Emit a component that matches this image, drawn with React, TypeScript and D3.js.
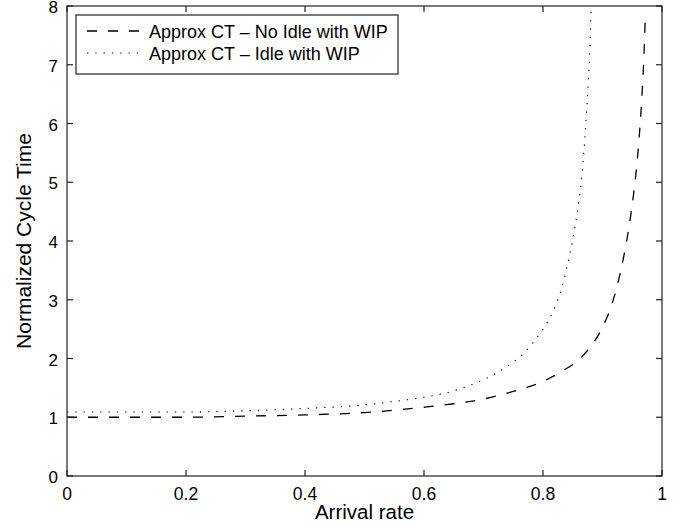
import React from "react";
import * as d3 from "d3";

const xTicks = [0, 0.2, 0.4, 0.6, 0.8, 1];
const xTickLabels = ["0", "0.2", "0.4", "0.6", "0.8", "1"];
const yTicks = [0, 1, 2, 3, 4, 5, 6, 7, 8];
const yTickLabels = ["0", "1", "2", "3", "4", "5", "6", "7", "8"];

const seriesNames = ["Approx CT \u2013 No Idle with WIP", "Approx CT \u2013 Idle with WIP"];

const noIdleX = [0, 0.1, 0.2, 0.3, 0.4, 0.5, 0.6, 0.65, 0.7, 0.75, 0.8, 0.83, 0.86, 0.87, 0.885, 0.9, 0.915, 0.925, 0.935, 0.945, 0.952, 0.958, 0.963, 0.967, 0.97, 0.972];
const noIdleY = [1.0, 1.0, 1.0, 1.02, 1.04, 1.08, 1.17, 1.23, 1.31, 1.44, 1.61, 1.77, 1.98, 2.08, 2.27, 2.53, 2.9, 3.25, 3.7, 4.27, 4.78, 5.33, 5.95, 6.6, 7.25, 7.85];

const idleX = [0, 0.1, 0.2, 0.3, 0.4, 0.5, 0.55, 0.6, 0.65, 0.7, 0.73, 0.75, 0.77, 0.79, 0.81, 0.82, 0.83, 0.84, 0.85, 0.857, 0.863, 0.868, 0.872, 0.876, 0.879, 0.881];
const idleY = [1.09, 1.09, 1.09, 1.11, 1.15, 1.21, 1.27, 1.34, 1.45, 1.64, 1.8, 1.94, 2.11, 2.36, 2.66, 2.88, 3.15, 3.55, 4.03, 4.45, 4.9, 5.43, 6.0, 6.7, 7.3, 8.0];

const W = 684;
const H = 526;
const L = 67, R = 662, T = 6, B = 476;
const FONT = "'Liberation Sans', Arial, Helvetica, sans-serif";

export default function App() {
  const x = d3.scaleLinear().domain([0, 1]).range([L, R]);
  const y = d3.scaleLinear().domain([0, 8]).range([B, T]);
  const line = d3
    .line<[number, number]>()
    .x((d) => x(d[0]))
    .y((d) => y(d[1]))
    .curve(d3.curveMonotoneX);
  const noIdle = noIdleX.map((v, i) => [v, noIdleY[i]] as [number, number]);
  const idle = idleX.map((v, i) => [v, idleY[i]] as [number, number]);
  const tl = 6;
  const axisColor = "#222";

  return (
    <svg
      width={W}
      height={H}
      style={{ position: "absolute", left: 0, top: 0, background: "#fff" }}
      fontFamily={FONT}
    >
      <defs>
        <clipPath id="plotclip">
          <rect x={L} y={T} width={R - L} height={B - T} />
        </clipPath>
      </defs>
      <rect x={0} y={0} width={W} height={H} fill="#fff" />
      <g clipPath="url(#plotclip)">
        <path d={line(noIdle) || ""} fill="none" stroke="#000" strokeWidth={1.3} strokeDasharray="10,11" />
        <path d={line(idle) || ""} fill="none" stroke="#000" strokeWidth={1.1} strokeDasharray="1.3,7" />
      </g>
      <rect x={L} y={T} width={R - L} height={B - T} fill="none" stroke={axisColor} strokeWidth={1.2} />
      {xTicks.map((t, i) => (
        <g key={"x" + i}>
          <line x1={x(t)} x2={x(t)} y1={B} y2={B - tl} stroke={axisColor} strokeWidth={1.2} />
          <line x1={x(t)} x2={x(t)} y1={T} y2={T + tl} stroke={axisColor} strokeWidth={1.2} />
          <text x={x(t)} y={499.5} textAnchor="middle" fontSize={17.5} fill="#000">
            {xTickLabels[i]}
          </text>
        </g>
      ))}
      {yTicks.map((t, i) => (
        <g key={"y" + i}>
          <line x1={L} x2={L + tl} y1={y(t)} y2={y(t)} stroke={axisColor} strokeWidth={1.2} />
          <line x1={R} x2={R - tl} y1={y(t)} y2={y(t)} stroke={axisColor} strokeWidth={1.2} />
          <text x={58} y={y(t) + 7} textAnchor="end" fontSize={17} fill="#000">
            {yTickLabels[i]}
          </text>
        </g>
      ))}
      <text x={(L + R) / 2} y={519} textAnchor="middle" fontSize={20.5} fill="#000">
        Arrival rate
      </text>
      <text
        transform={`translate(31,${(T + B) / 2}) rotate(-90)`}
        textAnchor="middle"
        fontSize={21}
        fill="#000"
      >
        Normalized Cycle Time
      </text>
      <rect x={76} y={15} width={322} height={59} fill="#fff" stroke={axisColor} strokeWidth={1.2} />
      <line x1={87} x2={139} y1={31} y2={31} stroke="#000" strokeWidth={1.3} strokeDasharray="10,11" />
      <text x={149} y={37.5} fontSize={18} fill="#000">
        {seriesNames[0]}
      </text>
      <line x1={87} x2={139} y1={53} y2={53} stroke="#000" strokeWidth={1.1} strokeDasharray="1.3,7" />
      <text x={149} y={60} fontSize={18} fill="#000">
        {seriesNames[1]}
      </text>
    </svg>
  );
}
